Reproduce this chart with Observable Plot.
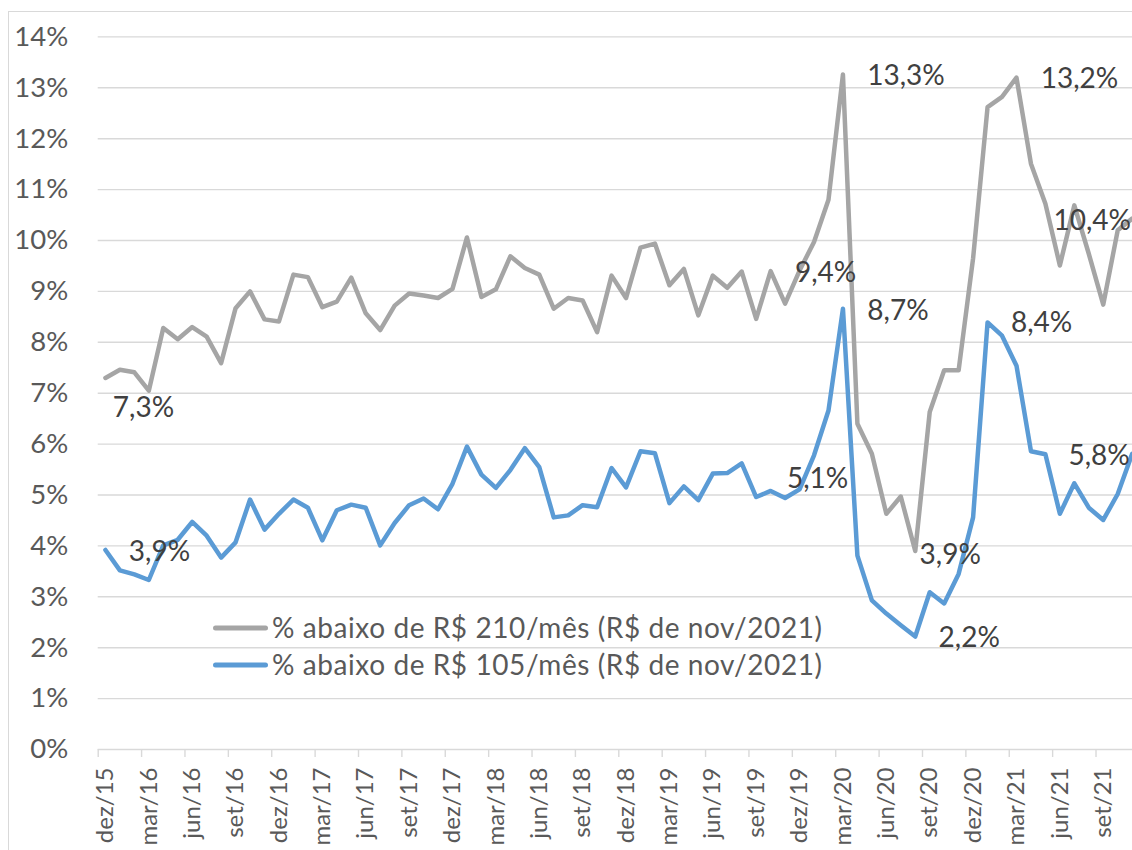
<!DOCTYPE html>
<html><head><meta charset="utf-8">
<script src="https://cdn.jsdelivr.net/npm/d3@7"></script>
<script src="https://cdn.jsdelivr.net/npm/@observablehq/plot@0.6"></script>
<style>
html,body{margin:0;padding:0;background:#fff;overflow:hidden;width:1132px;height:850px}
#wrap{position:relative;width:1132px;height:850px;overflow:hidden;background:#fff}
#wrap svg{position:absolute;left:0;top:0}
#border{position:absolute;left:8px;top:11px;width:1200px;height:900px;border-left:1.5px solid #d9d9d9;border-top:1.5px solid #d9d9d9;pointer-events:none;z-index:5}
</style></head><body><div id="wrap"><div id="border"></div></div>
<script>
// ---- data ----
const months = [
  "dez/15",
  "jan/16","fev/16","mar/16","abr/16","mai/16","jun/16","jul/16","ago/16","set/16","out/16","nov/16","dez/16",
  "jan/17","fev/17","mar/17","abr/17","mai/17","jun/17","jul/17","ago/17","set/17","out/17","nov/17","dez/17",
  "jan/18","fev/18","mar/18","abr/18","mai/18","jun/18","jul/18","ago/18","set/18","out/18","nov/18","dez/18",
  "jan/19","fev/19","mar/19","abr/19","mai/19","jun/19","jul/19","ago/19","set/19","out/19","nov/19","dez/19",
  "jan/20","fev/20","mar/20","abr/20","mai/20","jun/20","jul/20","ago/20","set/20","out/20","nov/20","dez/20",
  "jan/21","fev/21","mar/21","abr/21","mai/21","jun/21","jul/21","ago/21","set/21","out/21","nov/21"
];
const xTickLabels = ["dez/15","mar/16","jun/16","set/16","dez/16","mar/17","jun/17","set/17","dez/17",
  "mar/18","jun/18","set/18","dez/18","mar/19","jun/19","set/19","dez/19","mar/20","jun/20","set/20",
  "dez/20","mar/21","jun/21","set/21"];
const yTicks = [0,1,2,3,4,5,6,7,8,9,10,11,12,13,14];
const seriesNames = ["% abaixo de R$ 210/mês (R$ de nov/2021)", "% abaixo de R$ 105/mês (R$ de nov/2021)"];
const below210 = [
  7.30,7.46,7.41,7.05,8.28,8.06,8.30,8.11,7.59,8.67,9.00,8.45,8.41,
  9.33,9.28,8.69,8.80,9.27,8.57,8.24,8.72,8.96,8.92,8.87,9.05,
  10.06,8.89,9.04,9.69,9.46,9.33,8.66,8.87,8.82,8.20,9.31,8.87,
  9.86,9.94,9.12,9.44,8.53,9.31,9.07,9.39,8.46,9.40,8.76,9.41,
  9.97,10.80,13.26,6.40,5.81,4.63,4.97,3.90,6.63,7.45,7.45,9.65,
  12.62,12.82,13.20,11.51,10.72,9.51,10.69,9.74,8.74,10.20,10.43
];
const below105 = [
  3.92,3.52,3.44,3.33,4.01,4.12,4.47,4.20,3.77,4.07,4.91,4.32,4.63,
  4.91,4.75,4.11,4.70,4.81,4.75,4.01,4.45,4.80,4.93,4.72,5.22,
  5.95,5.40,5.14,5.49,5.92,5.55,4.56,4.60,4.80,4.76,5.53,5.15,
  5.86,5.82,4.84,5.17,4.90,5.42,5.43,5.62,4.96,5.08,4.94,5.11,
  5.78,6.66,8.66,3.81,2.93,2.67,2.44,2.22,3.09,2.87,3.45,4.56,
  8.39,8.13,7.54,5.86,5.80,4.63,5.23,4.75,4.51,5.02,5.81
];
const labeled210 = ["dez/15","dez/19","mar/20","ago/20","mar/21","nov/21"];
const labeled105 = ["dez/15","dez/19","mar/20","ago/20","jan/21","nov/21"];

// ---- style ----
const colors = ["#a5a5a5", "#5b9bd5"];
const FONT = "Lato, 'Open Sans', sans-serif";
const labelOffsets = {
  "0-dez/15": [38, 30], "0-dez/19": [26, 3], "0-mar/20": [63, 1], "0-ago/20": [35, 4], "0-mar/21": [63, 1], "0-nov/21": [-40, 2],
  "1-dez/15": [54, 2], "1-dez/19": [18, -10], "1-mar/20": [55, 2], "1-ago/20": [54, 2], "1-jan/21": [54, 1], "1-nov/21": [-33, 2]
};
const fmt = v => v.toFixed(1).replace(".", ",") + "%";

const series = [below210, below105];
const labelMarks = [];
[labeled210, labeled105].forEach((labs, s) => {
  labs.forEach(m => {
    const i = months.indexOf(m);
    const [dx, dy] = labelOffsets[s + "-" + m];
    labelMarks.push(Plot.text([{i, v: series[s][i]}], {
      x: "i", y: "v", text: d => fmt(d.v), dx, dy,
      fontSize: 28, fill: "#404040", textAnchor: "middle", lineAnchor: "middle"
    }));
  });
});

const tickCenters = xTickLabels.map(l => months.indexOf(l));
const tickBounds = tickCenters.map(i => i - 0.5);

const chart = Plot.plot({
  width: 1132, height: 850,
  marginLeft: 97.7, marginRight: 0, marginTop: 36.4, marginBottom: 101,
  style: {fontFamily: FONT, background: "transparent", overflow: "hidden"},
  x: {domain: [-0.5, months.length - 0.5], range: [97.7, 1138.9]},
  y: {domain: [0, 14]},
  marks: [
    Plot.gridY(yTicks, {stroke: "#d9d9d9", strokeOpacity: 1, strokeWidth: 1.4}),
    Plot.axisY(yTicks, {tickSize: 0, tickPadding: 30, tickFormat: d => d + "%", fontSize: 27.5, fill: "#595959", label: null}),
    Plot.axisX(tickBounds, {tickSize: 8, tickFormat: () => "", stroke: "#d9d9d9", strokeWidth: 1.4, strokeOpacity: 1, label: null}),
    Plot.axisX(tickCenters, {tickSize: 0, tickRotate: -90, tickPadding: 18, tickFormat: i => months[i], fontSize: 24, fill: "#595959", label: null}),
    Plot.lineY(below210, {x: (d, i) => i, y: d => d, stroke: colors[0], strokeWidth: 4.5, strokeLinejoin: "round", strokeLinecap: "round"}),
    Plot.lineY(below105, {x: (d, i) => i, y: d => d, stroke: colors[1], strokeWidth: 4.5, strokeLinejoin: "round", strokeLinecap: "round"}),
    ...labelMarks
  ]
});
document.getElementById("wrap").appendChild(chart);

// legend overlay (inside plot area, as in the reference)
const leg = d3.select("#wrap").append("svg")
  .attr("width", 1132).attr("height", 850)
  .style("pointer-events", "none");
const rows = [{y: 628}, {y: 665}];
rows.forEach((r, k) => {
  leg.append("line").attr("x1", 215.5).attr("x2", 265.5).attr("y1", r.y).attr("y2", r.y)
    .attr("stroke", colors[k]).attr("stroke-width", 5).attr("stroke-linecap", "round");
  leg.append("text").attr("x", 272).attr("y", r.y + 9.5)
    .attr("font-family", FONT).attr("font-size", 28).attr("fill", "#595959")
    .attr("textLength", 550).attr("lengthAdjust", "spacing")
    .text(seriesNames[k]);
});
</script>
</body></html>
